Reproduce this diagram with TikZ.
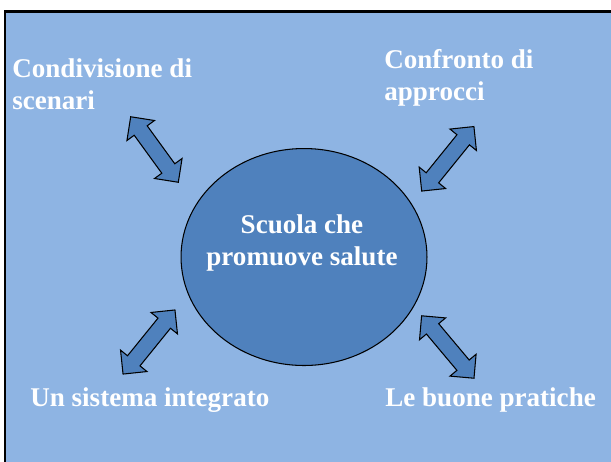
\documentclass[tikz,border=0pt]{standalone}
\usepackage{fontspec}
\setmainfont{Liberation Serif}
\usetikzlibrary{shapes.geometric,shapes.arrows}
\definecolor{slidebg}{HTML}{8EB4E3}
\definecolor{accent}{HTML}{4F81BD}

\begin{document}
\begin{tikzpicture}[x=0.02cm,y=-0.02cm,
    caption/.style={text=white,font=\fontsize{15.4}{18.2}\selectfont\bfseries,align=left,inner sep=0pt,anchor=west},
    link/.style={double arrow,draw=black,fill=accent,line width=0.6pt,
      text height=0.15cm,text depth=0.15cm,inner sep=0pt,
      double arrow head extend=0.18cm,minimum height=#1}]
  \useasboundingbox (0,0) rectangle (611,461);
  \fill [white] (0,0) rectangle (611,461);
  \fill [slidebg] (5,11) rectangle (620,470);
  \draw [line width=1.7pt] (5,470) -- (5,11) -- (620,11);

  % centre
  \node [ellipse,draw=black,fill=accent,line width=0.6pt,
    minimum width=4.92cm,minimum height=4.34cm] (school) at (304,257) {};
  \node [text=white,font=\fontsize{15.4}{18.2}\selectfont\bfseries,align=center] (schooltext) at (302,243) {Scuola che\\promuove salute};

  % the four themes
  \node [caption] (sharing) at (12,84) {Condivisione di\\scenari};
  \node [caption] (compare) at (384,78) {Confronto di\\approcci};
  \node [caption] (system) at (30,400) {Un sistema integrato};
  \node [caption] (practice) at (385,400) {Le buone pratiche};

  % arrows
  \node [link=1.62cm,rotate=-54] (tl) at (154.5,149.5) {};
  \node [link=1.66cm,rotate=51] (tr) at (447.8,158.8) {};
  \node [link=1.65cm,rotate=51] (bl) at (149,342) {};
  \node [link=1.63cm,rotate=-50] (br) at (447.8,347) {};
\end{tikzpicture}
\end{document}
